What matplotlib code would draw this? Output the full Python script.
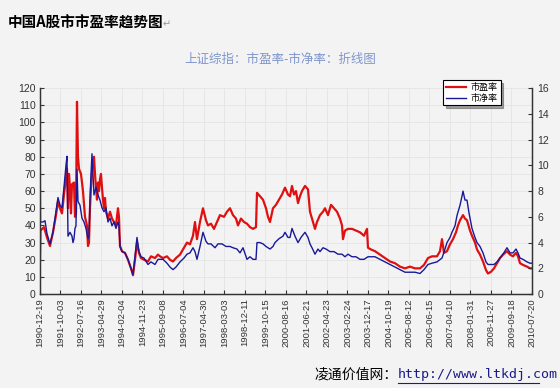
import matplotlib.pyplot as plt
from matplotlib.lines import Line2D

plt.rcParams['font.family'] = ['Noto Sans CJK SC', 'DejaVu Sans']

# trading-day index (ticks every 205 days)
pe_x = [0, 5, 40, 70, 100, 130, 160, 180, 200, 220, 240, 260, 270, 280, 290, 300, 310, 320, 340, 350,
        360, 370, 380, 390, 410, 430, 450, 470, 480, 490, 500, 510, 520, 530, 540, 550, 560, 570, 580, 590,
        600, 610, 620, 630, 640, 650, 660, 680, 700, 720, 740, 760, 780, 790, 800, 820, 850, 880, 910, 930,
        950, 970, 990, 1010, 1040, 1080, 1110, 1150, 1180, 1200, 1230, 1270, 1300, 1330, 1360, 1400, 1440,
        1470, 1500, 1530, 1550, 1570, 1600, 1630, 1660, 1680, 1710, 1740, 1770, 1800, 1840, 1870, 1900,
        1930, 1960, 1980, 2010, 2040, 2070, 2100, 2130, 2160, 2170, 2200, 2230, 2260, 2280, 2300, 2330,
        2360, 2390, 2420, 2450, 2480, 2500, 2520, 2540, 2560, 2580, 2600, 2620, 2650, 2680, 2700, 2720,
        2750, 2770, 2800, 2830, 2850, 2880, 2910, 2940, 2970, 3000, 3020, 3030, 3050, 3080, 3120, 3160,
        3200, 3240, 3270, 3280, 3310, 3350, 3400, 3450, 3500, 3550, 3600, 3650, 3700, 3750, 3800, 3840,
        3880, 3920, 3970, 4000, 4020, 4040, 4070, 4100, 4130, 4160, 4180, 4200, 4230, 4250, 4270, 4300,
        4320, 4350, 4370, 4400, 4430, 4460, 4480, 4510, 4540, 4570, 4600, 4630, 4670, 4700, 4730, 4760,
        4780, 4800, 4830, 4870, 4900, 4920]
pe = [20, 37, 39, 33, 28, 36, 46, 54, 50, 47, 58, 68, 73, 50, 70, 62, 47, 64, 65, 45,
      47, 112, 80, 73, 70, 60, 45, 40, 28, 30, 50, 62, 70, 78, 80, 70, 62, 55, 65, 60,
      67, 70, 62, 55, 50, 56, 48, 44, 48, 44, 42, 40, 50, 45, 28, 25, 24, 20, 15, 11,
      20, 30, 24, 21, 20, 19, 22, 21, 23, 22, 21, 22, 20, 19, 21, 23, 27,
      30, 29, 34, 42, 32, 42, 50, 43, 40, 41, 38, 42, 46, 45, 48, 50,
      46, 44, 40, 44, 42, 41, 39, 38, 39, 59, 57, 55, 50, 45, 42, 50,
      52, 55, 58, 62, 58, 57, 63, 58, 60, 53, 57, 60, 63, 61, 48, 44,
      38, 42, 46, 48, 50, 46, 52, 50, 48, 44, 40, 32, 37, 38, 38, 37,
      36, 34, 38, 27, 26, 25, 23, 21, 19, 18, 16, 15, 16, 15, 15, 17,
      21, 22, 22, 25, 32, 24, 25, 29, 32, 36, 40, 43, 46, 44, 43, 37,
      34, 30, 26, 23, 19, 14, 12, 13, 15, 18, 21, 23, 25, 23, 22, 24,
      22, 18, 17, 16, 15, 15]

pb_x = [0, 5, 30, 50, 70, 100, 130, 160, 180, 200, 220, 240, 260, 270, 280, 300, 320, 330, 340, 350,
        360, 370, 380, 400, 420, 440, 460, 480, 490, 500, 510, 520, 530, 540, 560, 580, 600, 620, 640, 660,
        680, 700, 720, 740, 760, 780, 790, 800, 820, 850, 880, 910, 930, 950, 970, 990, 1010, 1040, 1080,
        1110, 1150, 1180, 1200, 1230, 1270, 1300, 1330, 1360, 1400, 1440, 1470, 1500, 1530, 1550, 1570,
        1600, 1630, 1660, 1680, 1710, 1750, 1780, 1820, 1860, 1900, 1930, 1970, 2000, 2030, 2070, 2100,
        2130, 2160, 2170, 2200, 2230, 2260, 2300, 2330, 2350, 2390, 2430, 2450, 2480, 2500, 2520, 2550,
        2580, 2610, 2650, 2680, 2700, 2720, 2750, 2780, 2800, 2830, 2860, 2900, 2940, 2980, 3020, 3050,
        3080, 3120, 3160, 3200, 3240, 3280, 3310, 3350, 3400, 3450, 3500, 3550, 3600, 3650, 3700, 3750,
        3800, 3840, 3880, 3920, 3970, 4020, 4050, 4070, 4100, 4120, 4150, 4170, 4200, 4220, 4230, 4250,
        4270, 4290, 4320, 4350, 4370, 4400, 4430, 4460, 4480, 4510, 4540, 4570, 4600, 4630, 4670, 4700,
        4730, 4760, 4780, 4800, 4830, 4870, 4900, 4920]
pb = [14.4, 5.6, 5.6, 5.7, 4.7, 3.9, 4.8, 6.4, 7.5, 6.9, 6.7, 8.3, 10.0, 10.7, 4.5, 4.8, 4.5, 4.0, 4.3, 5.1,
      5.3, 9.7, 7.2, 6.9, 5.9, 5.6, 5.1, 4.3, 4.5, 7.3, 9.3, 10.9, 9.3, 7.7, 8.3, 7.7, 7.3, 6.7, 6.4, 6.7,
      5.6, 5.9, 5.3, 5.6, 5.1, 5.6, 5.3, 3.7, 3.3, 3.2, 2.7, 2.0, 1.5, 2.9, 4.4, 3.3, 2.9, 2.8, 2.3,
      2.5, 2.3, 2.7, 2.7, 2.7, 2.4, 2.1, 1.9, 2.1, 2.5, 2.8, 3.1, 3.2, 3.6, 3.3, 2.7,
      3.7, 4.8, 4.1, 3.9, 3.9, 3.6, 3.9, 3.9, 3.7, 3.7, 3.6, 3.5, 3.2, 3.6, 2.7, 2.9,
      2.7, 2.7, 4.0, 4.0, 3.9, 3.7, 3.5, 3.7, 4.0, 4.3, 4.5, 4.8, 4.4, 4.4, 5.1, 4.5,
      4.0, 4.4, 4.8, 4.4, 3.9, 3.6, 3.1, 3.5, 3.3, 3.6, 3.5, 3.3, 3.3, 3.1, 3.1, 2.9,
      3.1, 2.9, 2.9, 2.7, 2.7, 2.9, 2.9, 2.9, 2.7, 2.5, 2.3, 2.1, 1.9, 1.7, 1.7, 1.7,
      1.6, 1.9, 2.3, 2.4, 2.5, 2.8, 3.5, 4.0, 4.4, 4.8, 5.3, 6.1, 6.9, 7.6, 8.0, 7.3,
      7.3, 6.3, 5.1, 4.4, 4.0, 3.7, 3.2, 2.5, 2.3, 2.3, 2.3, 2.5, 2.8, 3.1, 3.6, 3.2,
      3.2, 3.5, 3.2, 2.8, 2.7, 2.5, 2.4, 2.4]

tick_step = 205
tick_labels = ['1990-12-19', '1991-10-03', '1992-07-16', '1993-04-29', '1994-02-04', '1994-11-23',
               '1995-09-08', '1996-07-04', '1997-04-30', '1998-03-03', '1998-12-11', '1999-10-15',
               '2000-08-16', '2001-06-21', '2002-04-23', '2003-02-24', '2003-12-17', '2004-10-19',
               '2005-08-12', '2006-06-15', '2007-04-10', '2008-01-31', '2008-11-27', '2009-09-18',
               '2010-07-20']

bg = '#f3f3f3'
fig = plt.figure(figsize=(5.6, 3.88), dpi=100, facecolor=bg)
ax = fig.add_axes([0.0714, 0.242, 0.8786, 0.531], facecolor=bg)
ax2 = ax.twinx()

l1, = ax.plot(pe_x, pe, color='#e01010', lw=1.6, label='市盈率')
l2, = ax2.plot(pb_x, pb, color='#18189a', lw=1.0, label='市净率')

ax.set_xlim(0, tick_step * (len(tick_labels) - 1))
ax.set_ylim(0, 120)
ax2.set_ylim(0, 16)
ax.set_yticks(range(0, 121, 10))
ax2.set_yticks(range(0, 17, 2))
ax.set_xticks([i * tick_step for i in range(len(tick_labels))])
ax.set_xticklabels(tick_labels, rotation=90, fontsize=6.8, family='Liberation Sans', color='#333333')
for t in ax.get_yticklabels() + ax2.get_yticklabels():
    t.set_fontsize(7.5)
    t.set_family('Liberation Sans')
    t.set_color('#333333')
ax.tick_params(direction='in', length=3, color='#333333', pad=3)
ax2.tick_params(direction='in', length=3, color='#333333', pad=4)
ax.grid(True, color='#e4e4e4', lw=0.6)
for a in (ax, ax2):
    a.spines['top'].set_visible(False)
    for s in ('left', 'right', 'bottom'):
        a.spines[s].set_color('#333333')
        a.spines[s].set_linewidth(0.9)

leg = fig.legend(handles=[l1, l2], loc='upper left', bbox_to_anchor=(0.783, 0.805),
                 fontsize=6.5, frameon=True, fancybox=False, shadow=True,
                 handlelength=2.2, borderpad=0.3, labelspacing=0.2, handletextpad=0.6)
leg.get_frame().set_edgecolor('black')
leg.get_frame().set_linewidth(0.8)
for t in leg.get_texts():
    t.set_style('italic')

fig.text(0.014, 0.943, '中国A股市市盈率趋势图', fontsize=10.5, weight='bold', va='center')
fig.text(0.29, 0.938, '↵', fontsize=7, color='#999999', va='center',
         family=['DejaVu Sans', 'Noto Sans CJK SC'])
fig.text(0.5, 0.848, '上证综指：市盈率-市净率：折线图', fontsize=9, color='#7f96cc', ha='center', va='center')

fig.text(0.562, 0.035, '凌通价值网：', fontsize=10, va='center')
fig.text(0.71, 0.035, 'http://www.ltkdj.com', fontsize=9.5, family='DejaVu Sans Mono',
         color='#1a1a8a', va='center')
fig.add_artist(Line2D([0.71, 0.963], [0.012, 0.012], color='#1a1a8a', lw=0.8))

fig.savefig('out.png', dpi=100, facecolor=bg)
